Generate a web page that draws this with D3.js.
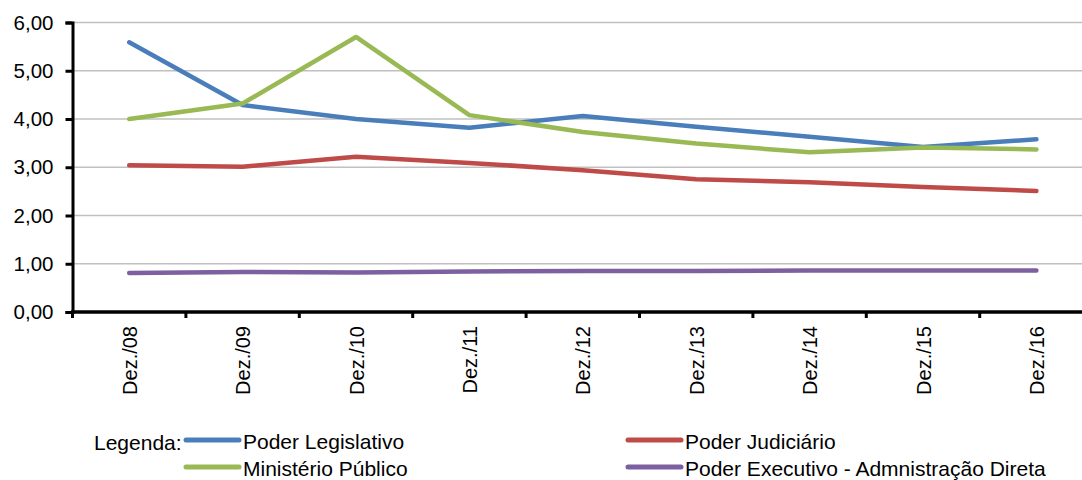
<!DOCTYPE html>
<html>
<head>
<meta charset="utf-8">
<script src="https://cdn.jsdelivr.net/npm/d3@7"></script>
<style>
	body { margin: 0; background: #fff; }
	svg { display: block; font-family: "Liberation Sans", Arial, sans-serif; }
</style>
</head>
<body>
<svg id="chart" width="1082" height="480"></svg>
<script>

const categories = ["Dez./08", "Dez./09", "Dez./10", "Dez./11", "Dez./12", "Dez./13", "Dez./14", "Dez./15", "Dez./16"]
const legislativo = [5.59, 4.29, 4.00, 3.82, 4.06, 3.84, 3.63, 3.42, 3.58]
const judiciario = [3.04, 3.01, 3.22, 3.09, 2.94, 2.75, 2.69, 2.59, 2.51]
const ministerio = [4.00, 4.32, 5.70, 4.08, 3.73, 3.49, 3.31, 3.41, 3.37]
const executivo = [0.81, 0.83, 0.82, 0.84, 0.85, 0.85, 0.86, 0.86, 0.86]
const yTicks = [0, 1, 2, 3, 4, 5, 6]

const series = [
	{ name: "Poder Legislativo", values: legislativo, color: "#4a7ebb" },
	{ name: "Poder Judiciário", values: judiciario, color: "#be4b48" },
	{ name: "Ministério Público", values: ministerio, color: "#98b954" },
	{ name: "Poder Executivo - Admnistração Direta", values: executivo, color: "#7d60a0" }
]

const svg = d3.select("#chart")
const plotLeft = 72.5, plotTop = 22.5, plotBottom = 312
const fontFamily = "Liberation Sans, Arial, sans-serif"

const x = d3.scaleBand().domain(categories).range([plotLeft, plotLeft + 9 * 113.4])
const y = d3.scaleLinear().domain([0, 6]).range([plotBottom, plotTop])
const fmt = d => d.toFixed(2).replace(".", ",")

// grid
svg.append("g")
	.selectAll("line")
	.data(yTicks.filter(d => d > 0))
	.join("line")
	.attr("x1", plotLeft).attr("x2", 1082)
	.attr("y1", d => y(d)).attr("y2", d => y(d))
	.attr("stroke", "#c0c0c0")
	.attr("stroke-width", 1.5)

// lines
const line = d3.line()
	.x((d, i) => x(categories[i]) + x.bandwidth() / 2)
	.y(d => y(d))

svg.append("g")
	.selectAll("path")
	.data(series)
	.join("path")
	.attr("d", d => line(d.values))
	.attr("fill", "none")
	.attr("stroke", d => d.color)
	.attr("stroke-width", 4.5)
	.attr("stroke-linecap", "round")
	.attr("stroke-linejoin", "round")

// y axis
const yAxis = svg.append("g")
	.attr("transform", `translate(${plotLeft},0)`)
	.call(d3.axisLeft(y).tickValues(yTicks).tickFormat(fmt).tickSize(7).tickPadding(12))
yAxis.select(".domain").attr("stroke", "#000").attr("stroke-width", 3)
yAxis.selectAll(".tick line").attr("stroke", "#000").attr("stroke-width", 3)
yAxis.selectAll("text").attr("font-size", 20.5).attr("fill", "#000").attr("font-family", fontFamily)

// x axis
const tickPos = d3.range(categories.length + 1).map(i => plotLeft + i * x.step())
const xg = svg.append("g").attr("font-family", fontFamily)
xg.append("line")
	.attr("x1", plotLeft - 1.5).attr("x2", 1082)
	.attr("y1", plotBottom).attr("y2", plotBottom)
	.attr("stroke", "#000").attr("stroke-width", 3.5)
xg.selectAll(".xt")
	.data(tickPos)
	.join("line")
	.attr("class", "xt")
	.attr("x1", d => d).attr("x2", d => d)
	.attr("y1", plotBottom).attr("y2", plotBottom + 6)
	.attr("stroke", "#000").attr("stroke-width", 3)
xg.selectAll("text")
	.data(categories)
	.join("text")
	.attr("transform", d => `translate(${x(d) + x.bandwidth() / 2 + 7.5},${plotBottom + 14}) rotate(-90)`)
	.attr("text-anchor", "end")
	.attr("font-size", 20)
	.text(d => d)

// legend
const lg = svg.append("g").attr("font-size", 21).attr("font-family", fontFamily)
lg.append("text").attr("x", 94).attr("y", 450).text("Legenda:")
const legendPos = [[186, 440], [628, 440], [186, 467], [628, 467]]
series.forEach((s, i) => {
	const [lx, ly] = legendPos[i]
	lg.append("line")
		.attr("x1", lx).attr("x2", lx + 53)
		.attr("y1", ly).attr("y2", ly)
		.attr("stroke", s.color)
		.attr("stroke-width", 5)
		.attr("stroke-linecap", "round")
	lg.append("text")
		.attr("x", lx + 57).attr("y", ly + 9)
		.text(s.name)
})

</script>
</body>
</html>
